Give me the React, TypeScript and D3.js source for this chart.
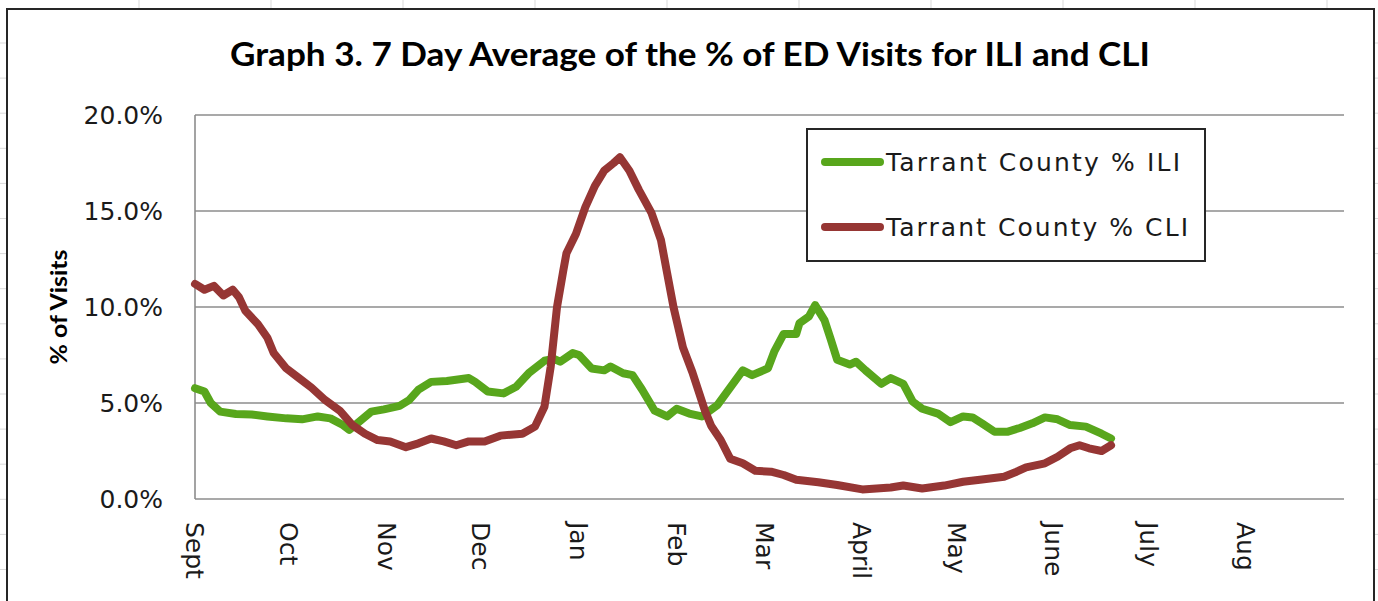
import React from "react";
import * as d3 from "d3";

const monthLabels = ["Sept", "Oct", "Nov", "Dec", "Jan", "Feb", "Mar", "April", "May", "June", "July", "Aug"];
const yTicks = [0, 5, 10, 15, 20];

// days since Sept 1, 2021 and % of ED visits
const iliDay = [0, 3, 5, 8, 13, 18, 23, 29, 34, 39, 43, 47, 49, 52, 56, 60, 65, 68, 71, 75, 80, 87, 89, 93, 98, 102, 106, 111, 114, 116, 120, 122, 126, 130, 132, 136, 139, 142, 146, 150, 153, 157, 161, 166, 170, 174, 177, 182, 184, 187, 191, 192, 195, 197, 200, 202, 204, 208, 210, 213, 218, 221, 225, 228, 231, 236, 240, 244, 247, 250, 254, 258, 262, 266, 270, 274, 278, 283, 288, 291];
const iliPct = [5.77, 5.6, 5.0, 4.55, 4.43, 4.4, 4.3, 4.2, 4.15, 4.3, 4.2, 3.85, 3.6, 4.0, 4.55, 4.67, 4.85, 5.15, 5.7, 6.1, 6.15, 6.3, 6.1, 5.6, 5.5, 5.85, 6.55, 7.2, 7.3, 7.15, 7.6, 7.5, 6.8, 6.7, 6.9, 6.55, 6.45, 5.7, 4.6, 4.3, 4.7, 4.45, 4.3, 4.9, 5.8, 6.7, 6.45, 6.8, 7.67, 8.6, 8.6, 9.15, 9.5, 10.1, 9.3, 8.3, 7.25, 7.0, 7.15, 6.7, 6.0, 6.3, 6.0, 5.07, 4.7, 4.45, 4.0, 4.3, 4.25, 3.94, 3.5, 3.5, 3.7, 3.94, 4.25, 4.15, 3.85, 3.77, 3.4, 3.15];

const cliDay = [0, 3, 6, 9, 12, 14, 16, 20, 23, 25, 29, 33, 37, 41, 46, 50, 54, 58, 62, 67, 71, 75, 79, 83, 87, 92, 97, 104, 108, 111, 113, 115, 117, 118, 121, 124, 127, 130, 133, 135, 138, 141, 145, 148, 150, 152, 155, 158, 160, 162, 164, 167, 170, 174, 178, 183, 187, 191, 198, 204, 212, 221, 225, 231, 238, 244, 250, 257, 261, 264, 270, 274, 278, 281, 284, 288, 291];
const cliPct = [11.2, 10.9, 11.1, 10.6, 10.9, 10.5, 9.8, 9.1, 8.4, 7.6, 6.8, 6.3, 5.8, 5.2, 4.6, 3.85, 3.4, 3.07, 3.0, 2.7, 2.9, 3.15, 3.0, 2.8, 3.0, 3.0, 3.3, 3.4, 3.77, 4.8, 6.9, 10.0, 11.9, 12.8, 13.8, 15.2, 16.3, 17.1, 17.5, 17.8, 17.1, 16.1, 14.9, 13.5, 11.75, 10.0, 7.9, 6.6, 5.6, 4.6, 3.8, 3.07, 2.1, 1.86, 1.47, 1.42, 1.25, 1.0, 0.87, 0.73, 0.5, 0.6, 0.7, 0.55, 0.7, 0.9, 1.02, 1.16, 1.42, 1.65, 1.86, 2.2, 2.64, 2.8, 2.64, 2.5, 2.8];

const seriesNames = ["Tarrant County % ILI", "Tarrant County % CLI"];
const seriesColors = ["#58a61c", "#963634"];

const W = 1378;
const H = 601;
const start = new Date(2021, 8, 1);
const end = new Date(2022, 8, 1);

export default function App() {
  const x = d3.scaleTime().domain([start, end]).range([195, 1344]);
  const y = d3.scaleLinear().domain([0, 20]).range([499, 115]);
  const line = d3
    .line<[number, number]>()
    .x((d) => x(d3.timeDay.offset(start, d[0])))
    .y((d) => y(d[1]));
  const ili: [number, number][] = iliDay.map((d, i) => [d, iliPct[i]]);
  const cli: [number, number][] = cliDay.map((d, i) => [d, cliPct[i]]);
  const months = d3.timeMonth.range(start, end);

  const rowLines = d3.range(0, 17).map((k) => 43 + k * 35.1);
  const colLines = d3.range(0, 10).map((k) => 139 + k * 132);

  return (
    <svg
      width={W}
      height={H}
      style={{ position: "fixed", left: 0, top: 0, display: "block", background: "#fff" }}
    >
      {/* spreadsheet cells around the chart */}
      {rowLines.map((ry, i) => (
        <g key={"r" + i}>
          <line x1={0} x2={7} y1={ry} y2={ry} stroke="#d9d9d9" strokeWidth={1} />
          <line x1={1374} x2={W} y1={ry} y2={ry} stroke="#d9d9d9" strokeWidth={1} />
        </g>
      ))}
      {colLines.map((cx, i) => (
        <line key={"c" + i} x1={cx} x2={cx} y1={0} y2={9} stroke="#d9d9d9" strokeWidth={1} />
      ))}
      <rect x={7} y={9} width={1367} height={620} fill="#fff" stroke="#262626" strokeWidth={2} />

      <text
        x={690}
        y={66}
        textAnchor="middle"
        fontFamily="Lato, 'Open Sans', sans-serif"
        fontWeight={700}
        fontSize={32}
        textLength={920}
        lengthAdjust="spacingAndGlyphs"
        fill="#000"
      >
        Graph 3. 7 Day Average of the % of ED Visits for ILI and CLI
      </text>

      {/* gridlines */}
      {yTicks.map((t) => (
        <line key={"g" + t} x1={195} x2={1344} y1={y(t)} y2={y(t)} stroke="#8c8c8c" strokeWidth={1.6} />
      ))}
      <line x1={195} x2={195} y1={y(20)} y2={y(0)} stroke="#8c8c8c" strokeWidth={1.6} />

      {yTicks.map((t) => (
        <text
          key={"t" + t}
          x={163}
          y={y(t)}
          dy="0.36em"
          textAnchor="end"
          fontFamily="'DejaVu Sans', sans-serif"
          fontSize={25}
          fill="#1a1a1a"
        >
          {t.toFixed(1) + "%"}
        </text>
      ))}

      <text
        transform="translate(59,307) rotate(-90)"
        textAnchor="middle"
        dy="0.35em"
        fontFamily="Lato, 'Open Sans', sans-serif"
        fontWeight={700}
        fontSize={23}
        textLength={115}
        lengthAdjust="spacingAndGlyphs"
        fill="#000"
      >
        % of Visits
      </text>

      {months.map((m, i) => (
        <text
          key={"m" + i}
          transform={`translate(${x(m)},522) rotate(90)`}
          dy="0.36em"
          textAnchor="start"
          fontFamily="'DejaVu Sans', sans-serif"
          fontSize={25}
          fill="#1a1a1a"
        >
          {monthLabels[i]}
        </text>
      ))}

      <path d={line(ili) || ""} fill="none" stroke={seriesColors[0]} strokeWidth={8} strokeLinejoin="round" strokeLinecap="round" />
      <path d={line(cli) || ""} fill="none" stroke={seriesColors[1]} strokeWidth={8} strokeLinejoin="round" strokeLinecap="round" />

      {/* legend */}
      <rect x={807} y={129} width={398} height={132} fill="#fff" stroke="#262626" strokeWidth={2} />
      {seriesNames.map((s, i) => (
        <g key={"l" + i}>
          <line x1={825} x2={880} y1={162 + i * 65} y2={162 + i * 65} stroke={seriesColors[i]} strokeWidth={8} strokeLinecap="round" />
          <text
            x={886}
            y={162 + i * 65}
            dy="0.36em"
            fontFamily="'DejaVu Sans', sans-serif"
            fontSize={25}
            textLength={i === 0 ? 294 : 302}
            lengthAdjust="spacing"
            fill="#1a1a1a"
          >
            {s}
          </text>
        </g>
      ))}
    </svg>
  );
}
